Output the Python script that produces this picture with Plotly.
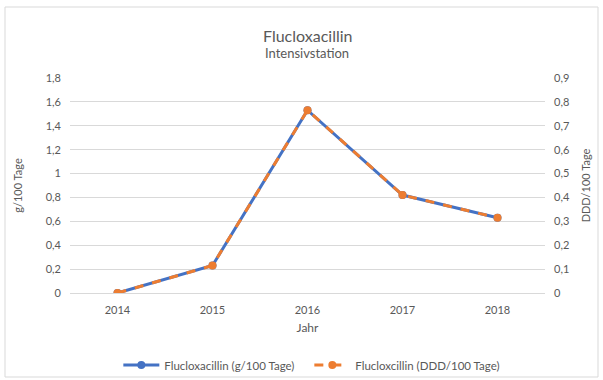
import plotly.graph_objects as go

# Jahresverbrauch Flucloxacillin, Intensivstation
years = ["2014", "2015", "2016", "2017", "2018"]
g_per_100 = [0.0, 0.23, 1.53, 0.82, 0.63]
ddd_per_100 = [0.0, 0.115, 0.765, 0.41, 0.315]

blue = "#4472C4"
orange = "#ED7D31"
grey_text = "#595959"
grid = "#D9D9D9"
font_family = "Lato, 'Open Sans', sans-serif"

fig = go.Figure()
fig.add_trace(go.Scatter(
    x=years, y=g_per_100, name="Flucloxacillin (g/100 Tage)",
    mode="lines+markers",
    line=dict(color=blue, width=3),
    marker=dict(symbol="circle", size=8, color=blue),
    yaxis="y",
))
fig.add_trace(go.Scatter(
    x=years, y=ddd_per_100, name="Flucloxcillin (DDD/100 Tage)",
    mode="lines+markers",
    line=dict(color=orange, width=3, dash="dash"),
    marker=dict(symbol="circle", size=8, color=orange),
    yaxis="y2",
))

fig.update_layout(
    width=603, height=380,
    margin=dict(l=70, r=58, t=78, b=87, autoexpand=False),
    paper_bgcolor="white", plot_bgcolor="white",
    separators=", ",
    font=dict(family=font_family, size=11, color=grey_text),
    showlegend=True,
    legend=dict(
        orientation="h", xref="container", yref="container",
        x=0.513, xanchor="center", y=(380 - 365) / 380, yanchor="middle",
        font=dict(size=11.5, color=grey_text), itemwidth=36,
        entrywidth=140, entrywidthmode="pixels",
        traceorder="normal", bgcolor="rgba(0,0,0,0)",
    ),
    xaxis=dict(
        type="category", range=[-0.5, 4.5],
        showgrid=False, showline=False, zeroline=False, ticks="",
        ticklabelstandoff=9,
        tickfont=dict(size=11, color=grey_text),
        title=dict(text="Jahr", font=dict(size=12, color=grey_text), standoff=8),
    ),
    yaxis=dict(
        range=[0, 1.8], dtick=0.2, tick0=0,
        showgrid=True, gridcolor=grid, gridwidth=1,
        zeroline=True, zerolinecolor=grid, zerolinewidth=1,
        showline=False, ticks="", ticklabelstandoff=8,
        tickfont=dict(size=11, color=grey_text),
        title=dict(text="g/100 Tage", font=dict(size=11, color=grey_text), standoff=20),
    ),
    yaxis2=dict(
        range=[0, 0.9], dtick=0.1, tick0=0, overlaying="y", side="right",
        showgrid=False, zeroline=False, showline=False, ticks="",
        ticklabelstandoff=8,
        tickfont=dict(size=11, color=grey_text),
        title=dict(text="DDD/100 Tage", font=dict(size=11, color=grey_text), standoff=13),
    ),
    annotations=[
        dict(text="Flucloxacillin", xref="paper", yref="paper",
             x=(307 - 70) / 475, y=(293 - 36) / 215, xanchor="center", yanchor="middle",
             showarrow=False, font=dict(size=16, color=grey_text)),
        dict(text="Intensivstation", xref="paper", yref="paper",
             x=(307 - 70) / 475, y=(293 - 53) / 215, xanchor="center", yanchor="middle",
             showarrow=False, font=dict(size=13, color=grey_text)),
    ],
    shapes=[
        dict(type="rect", xref="paper", yref="paper",
             x0=(5 - 70) / 475, x1=(598 - 70) / 475,
             y0=(293 - 377) / 215, y1=(293 - 7) / 215,
             line=dict(color=grid, width=1), fillcolor="rgba(0,0,0,0)", layer="below"),
    ],
)

fig.write_html("out.html")
